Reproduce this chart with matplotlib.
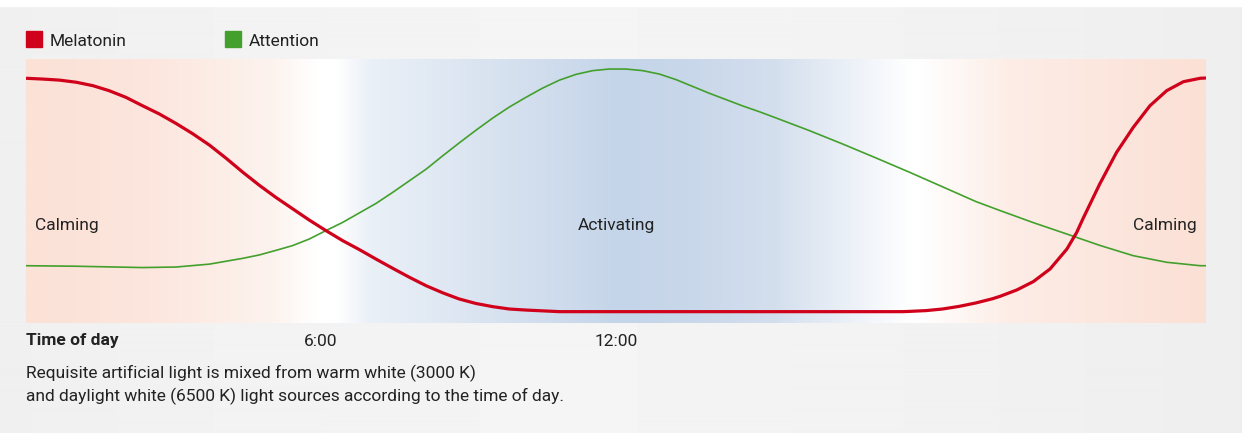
import numpy as np
import matplotlib
matplotlib.use("Agg")
import matplotlib.pyplot as plt
from matplotlib.colors import LinearSegmentedColormap

# -------------------------
# DATA (hours of day, relative level 0-100)
# -------------------------
melatonin_h = [0.0, 0.34, 0.68, 1.02, 1.36, 1.69, 2.03, 2.37, 2.71, 3.05, 3.39,
               3.73, 4.07, 4.41, 4.75, 5.08, 5.42, 5.76, 6.10, 6.44, 6.78,
               7.12, 7.46, 7.80, 8.14, 8.48, 8.81, 9.15, 9.49, 9.83, 10.17,
               10.85, 17.83, 17.97, 18.31, 18.64, 18.98, 19.32, 19.66, 19.81,
               20.15, 20.49, 20.83, 21.17, 21.37, 21.50, 21.84, 22.18, 22.52,
               22.86, 23.20, 23.54, 23.88, 24.0]
melatonin_v = [92.7, 92.4, 92.0, 91.2, 89.9, 88.0, 85.5, 82.3, 79.2, 75.6, 71.7,
               67.4, 62.4, 57.1, 52.1, 47.6, 43.3, 39.0, 35.0, 31.2, 27.8,
               24.2, 20.7, 17.3, 14.1, 11.4, 9.1, 7.4, 6.2, 5.3, 4.9,
               4.3, 4.3, 4.4, 4.7, 5.3, 6.3, 7.6, 9.2, 10.1,
               12.5, 15.7, 20.5, 28.0, 34.3, 39.6, 52.7, 64.6, 74.1,
               82.3, 88.0, 91.4, 92.7, 92.8]

attention_h = [0.0, 1.02, 2.37, 3.05, 3.73, 4.41, 4.75, 5.08, 5.42, 5.76, 6.10,
               6.44, 6.78, 7.12, 7.46, 7.80, 8.14, 8.48, 8.81, 9.15, 9.49,
               9.83, 10.17, 10.51, 10.85, 11.19, 11.53, 11.86, 12.20, 12.54,
               12.88, 13.22, 13.56, 13.90, 14.24, 14.58, 14.92, 15.25, 15.93,
               16.61, 17.29, 17.97, 18.64, 19.32, 19.81, 20.49, 21.17, 21.84,
               22.52, 23.20, 23.88, 24.0]
attention_v = [21.7, 21.5, 21.0, 21.2, 22.3, 24.5, 25.8, 27.5, 29.3, 31.8, 35.0,
               38.1, 41.7, 45.3, 49.5, 53.9, 58.3, 63.4, 68.2, 73.0, 77.6,
               81.8, 85.5, 89.0, 92.0, 94.2, 95.6, 96.2, 96.2, 95.6,
               94.3, 92.2, 89.6, 87.0, 84.6, 82.2, 80.0, 77.7, 72.9,
               67.8, 62.5, 57.1, 51.6, 46.0, 42.6, 38.0, 33.7, 29.4,
               25.5, 23.0, 21.7, 21.7]

tick_hours = [6, 12]
tick_labels = ["6:00", "12:00"]

zones = [(0.008, "Calming", "left"), (0.5, "Activating", "center"), (0.992, "Calming", "right")]

# background light colour by time of day (warm white -> daylight -> warm white)
bg_stops = [0.0, 2.5, 5.0, 5.9, 6.3, 7.0, 10.2, 12.0, 13.5, 15.25, 18.0, 18.2, 20.0, 24.0]
bg_colors = ["#fbe1d6", "#fce6dd", "#fdf3ee", "#ffffff", "#ffffff", "#eaf0f7",
             "#d3dfee", "#c5d5e9", "#c8d7ea", "#d4dfee", "#ffffff", "#ffffff",
             "#fdede6", "#fbe0d5"]

RED = "#d0021b"
GREEN = "#43a02c"
TEXT = "#222222"
FS = 12.5

plt.rcParams["font.family"] = ["Roboto", "DejaVu Sans"]

W, H = 1242, 433
fig = plt.figure(figsize=(W / 100, H / 100), dpi=100)

# figure background: soft grey gradient with white strip at the top
bg = fig.add_axes([0, 0, 1, 1], zorder=-10)
bg.axis("off")
gx = np.linspace(0, 1, 1242)
grey = 0.958 - 0.06 * np.abs(gx - 0.45) ** 1.5
bg.imshow(np.tile(grey, (20, 1)), cmap="gray", vmin=0, vmax=1,
          aspect="auto", extent=[0, 1, 0, 1], interpolation="bilinear")
bg.axhspan(1 - 6 / H, 1, color="white")
bg.set_xlim(0, 1)
bg.set_ylim(0, 1)

# -------------------------
# PLOT
# -------------------------
ax = fig.add_axes([26 / W, (H - 323) / H, 1180 / W, 264 / H])

cmap = LinearSegmentedColormap.from_list(
    "light", list(zip(np.array(bg_stops) / 24.0, bg_colors)), N=1024)
ax.imshow(np.linspace(0, 1, 1200)[None, :], cmap=cmap, aspect="auto",
          extent=[0, 24, 0, 100], zorder=0, interpolation="bilinear")

ax.plot(attention_h, attention_v, color=GREEN, lw=1.2, zorder=2,
        solid_joinstyle="round")
ax.plot(melatonin_h, melatonin_v, color=RED, lw=2.3, zorder=3,
        solid_joinstyle="round", solid_capstyle="butt")

ax.set_xlim(0, 24)
ax.set_ylim(0, 100)
for s in ax.spines.values():
    s.set_visible(False)
ax.set_yticks([])
ax.set_xticks(tick_hours)
ax.set_xticklabels(tick_labels, fontsize=FS, color=TEXT)
ax.tick_params(axis="x", length=0, pad=8)

for xf, label, ha in zones:
    ax.text(xf, 0.37, label, transform=ax.transAxes, ha=ha, va="center",
            fontsize=FS, color=TEXT)

ax.text(0, -0.068, "Time of day", transform=ax.get_xaxis_transform(),
        ha="left", va="center", fontsize=FS, fontweight="bold", color=TEXT)

# legend
for px, label, col in [(26, "Melatonin", RED), (225, "Attention", GREEN)]:
    fig.patches.append(plt.Rectangle((px / W, 1 - 47 / H), 16 / W, 16 / H,
                                     transform=fig.transFigure, color=col))
    fig.text((px + 24) / W, 1 - 41 / H, label, ha="left", va="center",
             fontsize=FS, color=TEXT)

fig.text(26 / W, 1 - 373 / H,
         "Requisite artificial light is mixed from warm white (3000 K)",
         ha="left", va="center", fontsize=FS, color=TEXT)
fig.text(26 / W, 1 - 396 / H,
         "and daylight white (6500 K) light sources according to the time of day.",
         ha="left", va="center", fontsize=FS, color=TEXT)

fig.savefig("out.png", dpi=100)
plt.close(fig)
